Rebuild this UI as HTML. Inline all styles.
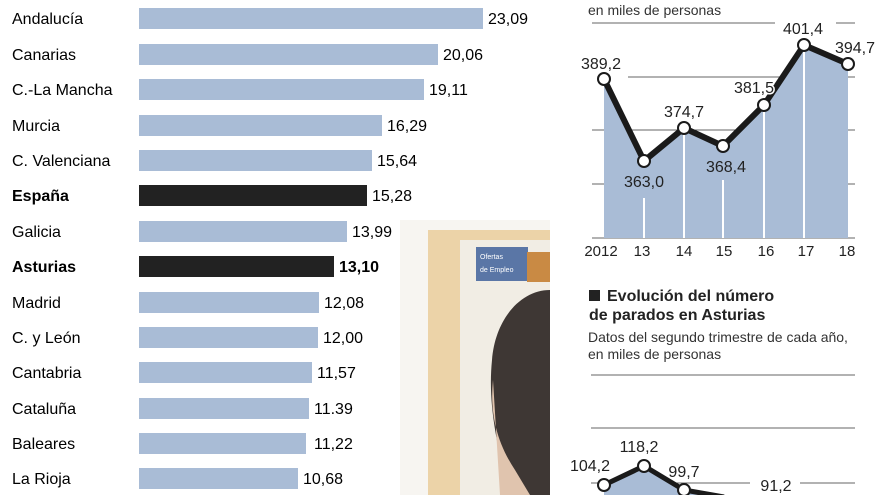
<!DOCTYPE html>
<html><head><meta charset="utf-8"><style>
body{margin:0;background:#fff;width:880px;height:495px;overflow:hidden;position:relative;font-family:"Liberation Sans",sans-serif;color:#222}
</style></head><body>
<svg width="880" height="495" style="position:absolute;left:0;top:0" font-family="Liberation Sans, sans-serif">
<!-- photo -->
<rect x="400" y="220" width="150" height="275" fill="#f7f5f1"/>
<rect x="428" y="230" width="122" height="265" fill="#ecd3a8"/>
<rect x="460" y="240" width="90" height="255" fill="#f1ede4"/>
<rect x="476" y="247" width="52" height="34" fill="#5a76a6"/>
<rect x="527" y="252" width="23" height="30" fill="#c98a44"/>
<text x="480" y="259" font-size="7" fill="#fff">Ofertas</text>
<text x="480" y="272" font-size="7" fill="#fff">de Empleo</text>
<path d="M550 290 C520 290 495 320 492 360 C488 400 495 440 510 495 L550 495 Z" fill="#3e3734"/>
<path d="M493 380 C490 410 495 440 515 470 L530 495 L500 495 Z" fill="#e0c4ae"/>
<!-- bars -->
<g font-size="16">
<g fill="#a9bcd6">
<rect x="139" y="8" width="344" height="21"/>
<rect x="139" y="44" width="299" height="21"/>
<rect x="139" y="79" width="285" height="21"/>
<rect x="139" y="115" width="243" height="21"/>
<rect x="139" y="150" width="233" height="21"/>
<rect x="139" y="221" width="208" height="21"/>
<rect x="139" y="292" width="180" height="21"/>
<rect x="139" y="327" width="179" height="21"/>
<rect x="139" y="362" width="173" height="21"/>
<rect x="139" y="398" width="170" height="21"/>
<rect x="139" y="433" width="167" height="21"/>
<rect x="139" y="468" width="159" height="21"/>
</g>
<rect x="139" y="185" width="228" height="21" fill="#222"/>
<rect x="139" y="256" width="195" height="21" fill="#222"/>
<g>
<text x="12" y="24">Andalucía</text><text x="488" y="24">23,09</text>
<text x="12" y="60">Canarias</text><text x="443" y="60">20,06</text>
<text x="12" y="95">C.-La Mancha</text><text x="429" y="95">19,11</text>
<text x="12" y="131">Murcia</text><text x="387" y="131">16,29</text>
<text x="12" y="166">C. Valenciana</text><text x="377" y="166">15,64</text>
<text x="12" y="201" font-weight="bold">España</text><text x="372" y="201">15,28</text>
<text x="12" y="237">Galicia</text><text x="352" y="237">13,99</text>
<text x="12" y="272" font-weight="bold">Asturias</text><text x="339" y="272" font-weight="bold">13,10</text>
<text x="12" y="308">Madrid</text><text x="324" y="308">12,08</text>
<text x="12" y="343">C. y León</text><text x="323" y="343">12,00</text>
<text x="12" y="378">Cantabria</text><text x="317" y="378">11,57</text>
<text x="12" y="414">Cataluña</text><text x="314" y="414">11.39</text>
<text x="12" y="449">Baleares</text><text x="314" y="449">11,22</text>
<text x="12" y="484">La Rioja</text><text x="303" y="484">10,68</text>
</g></g>
<!-- top line chart -->
<text x="588" y="15" font-size="14" fill="#333">en miles de personas</text>
<g stroke="#666" stroke-width="1">
<line x1="592" y1="23" x2="775" y2="23"/><line x1="836" y1="23" x2="855" y2="23"/>
<line x1="628" y1="77" x2="855" y2="77"/>
<line x1="592" y1="130" x2="855" y2="130"/><line x1="592" y1="184" x2="855" y2="184"/>
<line x1="592" y1="238" x2="855" y2="238"/>
</g>
<path d="M604 79 L644 161 L684 128 L723 146 L764 105 L804 45 L848 64 L848 238 L604 238 Z" fill="#a9bcd6"/>
<g stroke="#fff" stroke-width="2">
<line x1="644" y1="198" x2="644" y2="238"/><line x1="684" y1="135" x2="684" y2="238"/>
<line x1="723" y1="180" x2="723" y2="238"/><line x1="764" y1="112" x2="764" y2="238"/>
<line x1="804" y1="52" x2="804" y2="238"/>
</g>
<polyline points="604,79 644,161 684,128 723,146 764,105 804,45 848,64" fill="none" stroke="#1a1a1a" stroke-width="6" stroke-linejoin="round"/>
<g fill="#fff" stroke="#1a1a1a" stroke-width="2">
<circle cx="604" cy="79" r="6"/><circle cx="644" cy="161" r="6"/><circle cx="684" cy="128" r="6"/>
<circle cx="723" cy="146" r="6"/><circle cx="764" cy="105" r="6"/><circle cx="804" cy="45" r="6"/><circle cx="848" cy="64" r="6"/>
</g>
<g font-size="16" fill="#222" text-anchor="middle">
<text x="601" y="69">389,2</text><text x="644" y="187">363,0</text><text x="684" y="117">374,7</text>
<text x="726" y="172">368,4</text><text x="754" y="93" stroke="#fff" stroke-width="3" paint-order="stroke">381,5</text><text x="803" y="34">401,4</text><text x="855" y="53">394,7</text>
</g>
<g font-size="15" fill="#222" text-anchor="middle">
<text x="601" y="256">2012</text><text x="642" y="256">13</text><text x="684" y="256">14</text><text x="724" y="256">15</text>
<text x="766" y="256">16</text><text x="806" y="256">17</text><text x="847" y="256">18</text>
</g>
<!-- second title -->
<rect x="589" y="290" width="11" height="11" fill="#222"/>
<text x="607" y="301" font-size="16" font-weight="bold" fill="#222">Evolución del número</text>
<text x="589" y="320" font-size="16" font-weight="bold" fill="#222">de parados en Asturias</text>
<text x="588" y="342" font-size="14" fill="#333">Datos del segundo trimestre de cada año,</text>
<text x="588" y="359" font-size="14" fill="#333">en miles de personas</text>
<g stroke="#666" stroke-width="1">
<line x1="591" y1="375" x2="855" y2="375"/><line x1="591" y1="428" x2="855" y2="428"/>
<line x1="591" y1="483" x2="750" y2="483"/><line x1="800" y1="483" x2="855" y2="483"/>
</g>
<path d="M604 485 L644 466 L684 490 L724 497 L724 495 L604 495 Z" fill="#a9bcd6"/>
<polyline points="604,485 644,466 684,490 724,497" fill="none" stroke="#1a1a1a" stroke-width="5"/>
<g fill="#fff" stroke="#1a1a1a" stroke-width="2">
<circle cx="604" cy="485" r="6"/><circle cx="644" cy="466" r="6"/><circle cx="684" cy="490" r="6"/>
</g>
<g font-size="16" fill="#222" text-anchor="middle">
<text x="590" y="471">104,2</text><text x="639" y="452">118,2</text><text x="684" y="477">99,7</text><text x="776" y="491">91,2</text>
</g>
</svg>
</body></html>
